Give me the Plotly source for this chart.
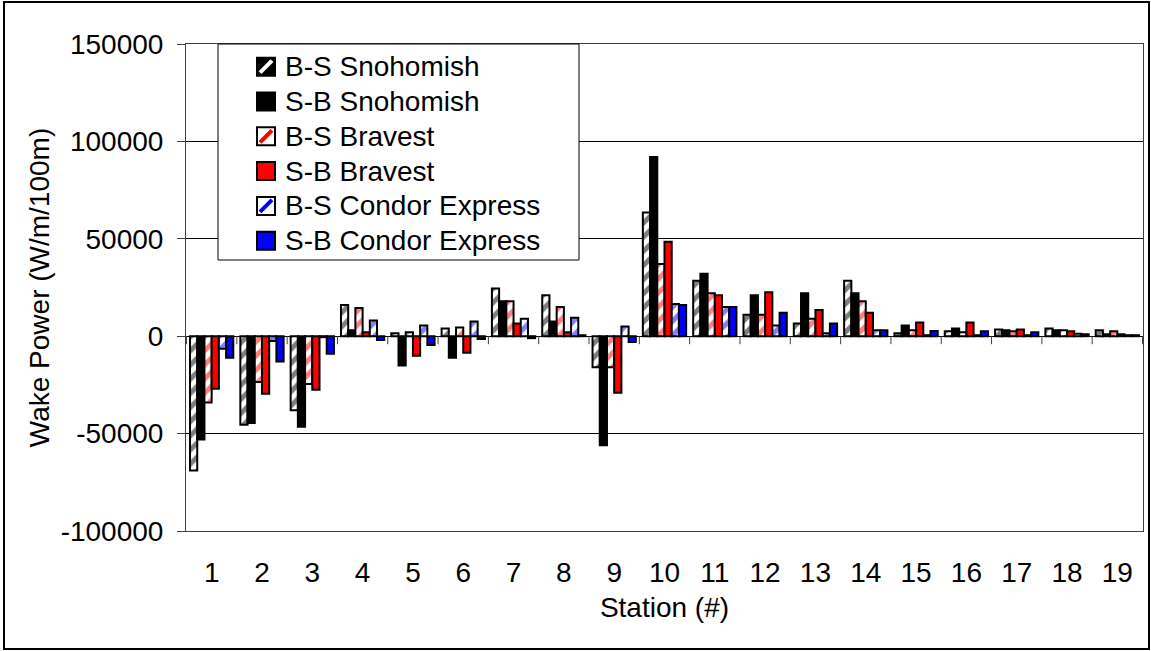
import plotly.graph_objects as go

stations = [str(i) for i in range(1, 20)]

bs_snohomish = [-69000, -45500, -38000, 16000, 1500, 4000, 24500, 21000, -16000, 63500,
                28500, 11000, 6500, 28500, 1500, 2500, 3500, 4000, 3000]
sb_snohomish = [-53000, -44500, -46500, 3000, -15000, -11000, 18000, 7500, -56000, 92000,
                32000, 21000, 22000, 22000, 5500, 4000, 3000, 3000, 1000]
bs_bravest = [-34000, -23500, -24500, 14500, 2000, 4500, 18000, 15000, -16000, 37000,
              22000, 11000, 9000, 18000, 3000, 2000, 2500, 3000, 2500]
sb_bravest = [-27000, -29500, -27500, 2000, -10000, -8500, 6500, 2000, -29000, 48500,
              21000, 22500, 13500, 12000, 7000, 7000, 3500, 2500, 1000]
bs_condor = [-6500, -2500, -500, 8000, 5500, 7500, 9000, 9500, 5000, 16500,
             15000, 5500, 1500, 3000, 500, 500, 500, 1200, 500]
sb_condor = [-11000, -13000, -9000, -2000, -4500, -1500, -1000, 500, -3000, 16000,
             15000, 12000, 6500, 3000, 2700, 2500, 2000, 1000, 500]

series_names = ["B-S Snohomish", "S-B Snohomish", "B-S Bravest", "S-B Bravest",
                "B-S Condor Express", "S-B Condor Express"]
y_ticks = [-100000, -50000, 0, 50000, 100000, 150000]

FONT = "Liberation Sans, Arial, sans-serif"
W, H = 1151, 651
L, R, T, B = 186, 8, 44, 120
PW, PH = W - L - R, H - T - B

def px(x):
    return (x - L) / PW

def py(y):
    return (H - B - y) / PH

series = [
    (bs_snohomish, "black", True),
    (sb_snohomish, "black", False),
    (bs_bravest, "#FF0000", True),
    (sb_bravest, "#FF0000", False),
    (bs_condor, "#0000FF", True),
    (sb_condor, "#0000FF", False),
]

fig = go.Figure()
for (vals, col, hatched), name in zip(series, series_names):
    if hatched:
        marker = dict(color="white", line=dict(color="black", width=2),
                      pattern=dict(shape="/", fgcolor=col, bgcolor="white",
                                   size=10, solidity=0.5))
    else:
        marker = dict(color=col, line=dict(color="black", width=2))
    fig.add_trace(go.Bar(x=stations, y=vals, name=name, marker=marker,
                         showlegend=False))

shapes = []
# category boundary ticks on the zero line
for i in range(len(stations) + 1):
    shapes.append(dict(type="line", xref="x", yref="y", x0=i - 0.5, x1=i - 0.5,
                       ysizemode="pixel", yanchor=0, y0=0, y1=-8,
                       line=dict(color="#404040", width=1)))
# outer frame
shapes.append(dict(type="rect", xref="paper", yref="paper",
                   x0=px(4), x1=px(1149), y0=py(649), y1=py(2),
                   line=dict(color="black", width=2), fillcolor="rgba(0,0,0,0)",
                   layer="below"))
# legend box
shapes.append(dict(type="rect", xref="paper", yref="paper",
                   x0=px(218), x1=px(579), y0=py(260), y1=py(44),
                   line=dict(color="black", width=1), fillcolor="white"))

annotations = []
row0, dy = 66.7, 34.8
sw = 18
for k, ((vals, col, hatched), name) in enumerate(zip(series, series_names)):
    cy = row0 + k * dy
    x0, x1 = 257, 257 + sw
    y0, y1 = cy - sw / 2, cy + sw / 2
    if hatched:
        base_fill = "black" if col == "black" else "white"
        stripe = "white" if col == "black" else col
        shapes.append(dict(type="rect", xref="paper", yref="paper",
                           x0=px(x0), x1=px(x1), y0=py(y1), y1=py(y0),
                           line=dict(color="black", width=2), fillcolor=base_fill))
        shapes.append(dict(type="line", xref="paper", yref="paper",
                           x0=px(x0 + 3), x1=px(x1 - 3), y0=py(y1 - 3), y1=py(y0 + 3),
                           line=dict(color=stripe, width=4)))
    else:
        shapes.append(dict(type="rect", xref="paper", yref="paper",
                           x0=px(x0), x1=px(x1), y0=py(y1), y1=py(y0),
                           line=dict(color="black", width=2), fillcolor=col))
    annotations.append(dict(xref="paper", yref="paper", x=px(283), y=py(cy),
                            xanchor="left", yanchor="middle", text=name,
                            showarrow=False, font=dict(family=FONT, size=28, color="black")))

fig.update_layout(
    width=W, height=H,
    margin=dict(l=L, r=R, t=T, b=B, autoexpand=False),
    paper_bgcolor="white", plot_bgcolor="white",
    barmode="group", bargap=0.14, bargroupgap=0,
    font=dict(family=FONT, size=28, color="black"),
    shapes=shapes, annotations=annotations,
    xaxis=dict(
        type="category", showgrid=False, ticks="", ticklabelstandoff=16,
        showline=True, linecolor="#404040", linewidth=1, mirror=True,
        tickfont=dict(family=FONT, size=28, color="black"),
        title=dict(text="Station (#)", font=dict(family=FONT, size=28, color="black"),
                   standoff=10),
        automargin=False, zeroline=False,
    ),
    yaxis=dict(
        range=[-100000, 150000], tickvals=y_ticks, ticktext=[str(v) for v in y_ticks],
        showgrid=True, gridcolor="black", gridwidth=1,
        zeroline=True, zerolinecolor="black", zerolinewidth=1,
        ticks="outside", ticklen=8, tickcolor="#404040", ticklabelstandoff=8,
        showline=True, linecolor="#404040", linewidth=1, mirror=True,
        tickfont=dict(family=FONT, size=28, color="black"),
        title=dict(text="Wake Power (W/m/100m)",
                   font=dict(family=FONT, size=28, color="black"), standoff=2),
        automargin=False,
    ),
)

fig.write_html("out.html", config={"displayModeBar": False},
               post_script="document.body.style.margin='0px';document.body.style.padding='0px';")
